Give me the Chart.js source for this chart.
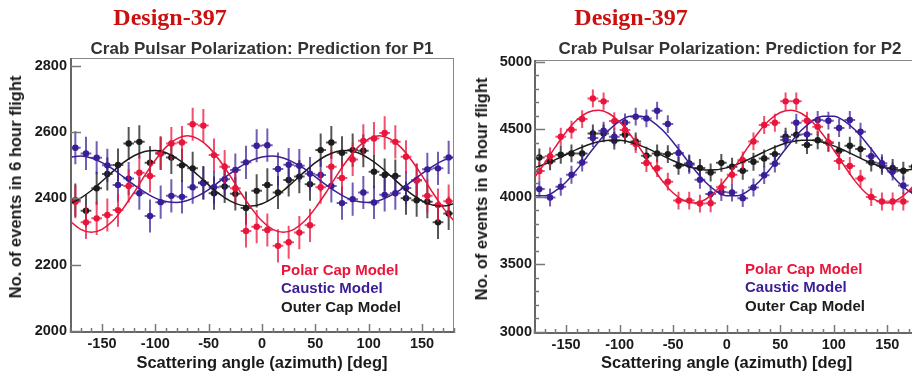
<!DOCTYPE html>
<html>
<head>
<meta charset="utf-8">
<script src="https://cdn.jsdelivr.net/npm/chart.js@4.4.1/dist/chart.umd.min.js"></script>
<style>
  html, body { margin: 0; padding: 0; background: #fff; }
  body { width: 912px; height: 375px; position: relative; overflow: hidden; font-family: "Liberation Sans", Arial, sans-serif; }
  canvas { position: absolute; top: 0; }
  #c1 { left: 0; }
  #c2 { left: 462px; }
  .design { position: absolute; top: 4px; line-height: 28px; font: bold 24px "Liberation Serif", "Times New Roman", serif; color: #cc1010; transform: translateX(-50%); white-space: nowrap; }
  .title { position: absolute; top: 39px; line-height: 20px; font-weight: bold; font-size: 17px; color: #333; transform: translateX(-50%); white-space: nowrap; }
  .ytitle { position: absolute; line-height: 20px; font-weight: bold; font-size: 16.5px; color: #1a1a1a; white-space: nowrap; transform: translate(-50%, -50%) rotate(-90deg); }
  .legend { position: absolute; font-weight: bold; font-size: 15px; line-height: 18.3px; white-space: nowrap; }
</style>
</head>
<body>
<canvas id="c1" width="462" height="375"></canvas>
<canvas id="c2" width="470" height="375"></canvas>

<div class="design" style="left:170px">Design-397</div>
<div class="design" style="left:631px">Design-397</div>
<div class="title" style="left:262px">Crab Pulsar Polarization: Prediction for P1</div>
<div class="title" style="left:730px">Crab Pulsar Polarization: Prediction for P2</div>
<div class="ytitle" style="left:15px; top:187px">No. of events in 6 hour flight</div>
<div class="ytitle" style="left:481px; top:189px">No. of events in 6 hour flight</div>

<div class="legend" style="left:281px; top:261px">
  <div style="color:rgb(232,22,60)">Polar Cap Model</div>
  <div style="color:rgb(58,30,150)">Caustic Model</div>
  <div style="color:rgb(28,28,28)">Outer Cap Model</div>
</div>
<div class="legend" style="left:745px; top:260px">
  <div style="color:rgb(232,22,60)">Polar Cap Model</div>
  <div style="color:rgb(58,30,150)">Caustic Model</div>
  <div style="color:rgb(28,28,28)">Outer Cap Model</div>
</div>

<script>
// bin centres of the azimuth histograms (10 deg bins)
const binAngles = [-175, -165, -155, -145, -135, -125, -115, -105, -95, -85, -75, -65, -55, -45, -35, -25, -15, -5,
  5, 15, 25, 35, 45, 55, 65, 75, 85, 95, 105, 115, 125, 135, 145, 155, 165, 175];
// sample angles for the fitted curves
const curveAngles = [-180, -170, -160, -150, -140, -130, -120, -110, -100, -90, -80, -70, -60, -50, -40, -30, -20, -10,
  0, 10, 20, 30, 40, 50, 60, 70, 80, 90, 100, 110, 120, 130, 140, 150, 160, 170, 180];
const xTicks = [-150, -100, -50, 0, 50, 100, 150];

// P1 panel
const p1Polar = [2390, 2328, 2340, 2350, 2365, 2438, 2478, 2468, 2538, 2566, 2569, 2624, 2620, 2531, 2496, 2431, 2302, 2315,
  2305, 2257, 2268, 2297, 2319, 2434, 2496, 2462, 2518, 2574, 2581, 2598, 2571, 2526, 2456, 2408, 2380, 2392];
const p1Caustic = [2553, 2536, 2523, 2500, 2441, 2460, 2416, 2347, 2389, 2408, 2405, 2434, 2446, 2434, 2458, 2486, 2509, 2559,
  2561, 2489, 2502, 2499, 2475, 2471, 2438, 2386, 2398, 2418, 2388, 2411, 2416, 2432, 2454, 2488, 2491, 2524];
const p1Outer = [2395, 2363, 2431, 2474, 2501, 2566, 2571, 2508, 2536, 2524, 2500, 2491, 2448, 2416, 2436, 2414, 2371, 2423,
  2441, 2418, 2456, 2466, 2443, 2546, 2569, 2538, 2546, 2544, 2481, 2471, 2468, 2401, 2395, 2390, 2328, 2355];
const p1PolarFit = [2332, 2307, 2298, 2307, 2332, 2371, 2418, 2469, 2516, 2555, 2580, 2589, 2580, 2555, 2516, 2469, 2418, 2371,
  2332, 2307, 2298, 2307, 2332, 2371, 2418, 2469, 2516, 2555, 2580, 2589, 2580, 2555, 2516, 2469, 2418, 2371, 2332];
const p1CausticFit = [2525, 2528, 2522, 2508, 2489, 2465, 2441, 2419, 2401, 2391, 2388, 2394, 2408, 2427, 2451, 2475, 2497, 2515,
  2525, 2528, 2522, 2508, 2489, 2465, 2441, 2419, 2401, 2391, 2388, 2394, 2408, 2427, 2451, 2475, 2497, 2515, 2525];
const p1OuterFit = [2384, 2401, 2424, 2452, 2481, 2508, 2529, 2542, 2545, 2538, 2521, 2498, 2470, 2441, 2414, 2393, 2380, 2377,
  2384, 2401, 2424, 2452, 2481, 2508, 2529, 2542, 2545, 2538, 2521, 2498, 2470, 2441, 2414, 2393, 2380, 2377, 2384];
const p1Err = 50;
const p1YTicks = [2000, 2200, 2400, 2600, 2800];

// P2 panel
const p2Polar = [4190, 4300, 4444, 4496, 4575, 4728, 4706, 4560, 4494, 4390, 4250, 4212, 4112, 3972, 3972, 3950, 3952, 4070,
  4163, 4270, 4410, 4531, 4548, 4706, 4706, 4563, 4519, 4402, 4265, 4228, 4135, 3998, 3965, 3965, 3965, 4044];
const p2Caustic = [4057, 3995, 4074, 4163, 4254, 4435, 4489, 4444, 4550, 4593, 4580, 4637, 4538, 4324, 4237, 4126, 4020, 4035,
  4032, 3990, 4069, 4160, 4245, 4420, 4548, 4462, 4568, 4563, 4509, 4568, 4481, 4300, 4248, 4187, 4084, 4040];
const p2Outer = [4291, 4262, 4311, 4321, 4321, 4469, 4469, 4415, 4459, 4410, 4304, 4321, 4316, 4230, 4247, 4213, 4180, 4251,
  4222, 4193, 4259, 4284, 4316, 4444, 4459, 4383, 4418, 4400, 4341, 4378, 4353, 4254, 4230, 4213, 4193, 4225];
const p2PolarFit = [4137, 4250, 4369, 4480, 4568, 4624, 4641, 4616, 4553, 4459, 4346, 4227, 4116, 4028, 3972, 3955, 3980, 4043,
  4137, 4250, 4369, 4480, 4568, 4624, 4641, 4616, 4553, 4459, 4346, 4227, 4116, 4028, 3972, 3955, 3980, 4043, 4137];
const p2CausticFit = [4008, 4008, 4044, 4110, 4200, 4302, 4404, 4494, 4560, 4596, 4596, 4560, 4494, 4404, 4302, 4200, 4110, 4044,
  4008, 4008, 4044, 4110, 4200, 4302, 4404, 4494, 4560, 4596, 4596, 4560, 4494, 4404, 4302, 4200, 4110, 4044, 4008];
const p2OuterFit = [4215, 4241, 4275, 4313, 4351, 4383, 4407, 4419, 4418, 4403, 4377, 4343, 4305, 4267, 4235, 4211, 4199, 4200,
  4215, 4241, 4275, 4313, 4351, 4383, 4407, 4419, 4418, 4403, 4377, 4343, 4305, 4267, 4235, 4211, 4199, 4200, 4215];
const p2Err = 66;
const p2YTicks = [3000, 3500, 4000, 4500, 5000];

const RED = 'rgb(232,22,60)';
const BLUE = 'rgb(58,30,150)';
const BLACK = 'rgb(28,28,28)';
const RED_BAR = 'rgba(232,22,60,0.75)';
const BLUE_BAR = 'rgba(58,30,150,0.72)';
const BLACK_BAR = 'rgba(28,28,28,0.75)';

// vertical (count) and horizontal (bin width) error bars, drawn just before the markers
const errorBars = {
  id: 'errorBars',
  beforeDatasetDraw(chart, args) {
    const ds = chart.data.datasets[args.index];
    if (!ds.yErr) return;
    const ctx = chart.ctx;
    const x = chart.scales.x, y = chart.scales.y;
    ctx.save();
    ctx.strokeStyle = ds.barColor;
    ctx.lineWidth = 2;
    ds.data.forEach(p => {
      const px = x.getPixelForValue(p.x);
      const py = y.getPixelForValue(p.y);
      ctx.beginPath();
      ctx.moveTo(px, y.getPixelForValue(p.y + ds.yErr));
      ctx.lineTo(px, y.getPixelForValue(p.y - ds.yErr));
      ctx.moveTo(x.getPixelForValue(p.x - ds.xErr), py);
      ctx.lineTo(x.getPixelForValue(p.x + ds.xErr), py);
      ctx.stroke();
    });
    ctx.restore();
  }
};

// ROOT-like frame with tick marks pointing inwards
const frameTicks = {
  id: 'frameTicks',
  afterDraw(chart, args, opts) {
    const ctx = chart.ctx;
    const a = chart.chartArea;
    const x = chart.scales.x, y = chart.scales.y;
    ctx.save();
    ctx.strokeStyle = '#888';
    ctx.lineWidth = 1;
    ctx.strokeRect(a.left + 0.5, a.top + 0.5, a.right - a.left - 1, a.bottom - a.top - 1);
    ctx.strokeStyle = '#666';
    ctx.lineWidth = 2;
    ctx.beginPath();
    ctx.moveTo(a.left + 1, a.top);
    ctx.lineTo(a.left + 1, a.bottom - 1);
    ctx.lineTo(a.right, a.bottom - 1);
    ctx.stroke();

    ctx.strokeStyle = '#777';
    ctx.lineWidth = 1.5;
    ctx.beginPath();
    for (let v = x.min; v <= x.max; v += opts.xMinor) {
      const px = Math.round(x.getPixelForValue(v)) + 0.5;
      const len = v % opts.xMajor === 0 ? 9 : 5;
      ctx.moveTo(px, a.bottom);
      ctx.lineTo(px, a.bottom - len);
    }
    const yStart = Math.ceil(y.min / opts.yMinor) * opts.yMinor;
    for (let v = yStart; v <= y.max; v += opts.yMinor) {
      const py = Math.round(y.getPixelForValue(v)) + 0.5;
      const len = v % opts.yMajor === 0 ? 11 : 5;
      ctx.moveTo(a.left, py);
      ctx.lineTo(a.left + len, py);
    }
    ctx.stroke();
    ctx.restore();
  }
};

function points(values) {
  return binAngles.map((a, i) => ({ x: a, y: values[i] }));
}
function curve(values) {
  return curveAngles.map((a, i) => ({ x: a, y: values[i] }));
}

const tickFont = { family: '"Liberation Sans", Arial, sans-serif', size: 14.5, weight: 'bold' };
const titleFont = { family: '"Liberation Sans", Arial, sans-serif', size: 16.5, weight: 'bold' };

function makePanel(canvasId, cfg) {
  const series = [
    { vals: cfg.polar, fit: cfg.polarFit, color: RED, bar: RED_BAR },
    { vals: cfg.caustic, fit: cfg.causticFit, color: BLUE, bar: BLUE_BAR },
    { vals: cfg.outer, fit: cfg.outerFit, color: BLACK, bar: BLACK_BAR }
  ];
  const datasets = [];
  series.forEach(s => {
    datasets.push({
      type: 'line', data: curve(s.fit), borderColor: s.color, borderWidth: 1.5,
      pointRadius: 0, fill: false, cubicInterpolationMode: 'monotone', order: 0
    });
  });
  series.forEach(s => {
    datasets.push({
      type: 'scatter', data: points(s.vals), backgroundColor: s.color, borderColor: s.color,
      borderWidth: 0, pointRadius: 3.2, yErr: cfg.err, xErr: 5, barColor: s.bar, order: 1
    });
  });

  return new Chart(document.getElementById(canvasId), {
    type: 'scatter',
    data: { datasets: datasets },
    options: {
      responsive: false,
      animation: false,
      events: [],
      layout: { padding: cfg.padding },
      plugins: {
        legend: { display: false },
        tooltip: { enabled: false },
        frameTicks: { xMinor: 10, xMajor: 50, yMinor: cfg.yMinor, yMajor: cfg.yMajor }
      },
      scales: {
        x: {
          type: 'linear', min: -180, max: 180,
          afterBuildTicks: s => { s.ticks = xTicks.map(v => ({ value: v })); },
          afterFit: s => { s.height = cfg.xAxisHeight; },
          grid: { display: false, drawTicks: false },
          border: { display: false },
          ticks: { font: tickFont, color: '#1a1a1a', padding: 2, autoSkip: false, maxRotation: 0, callback: v => String(v) },
          title: { display: true, text: 'Scattering angle (azimuth) [deg]', font: titleFont, color: '#1a1a1a', padding: { top: 0, bottom: 2 } }
        },
        y: {
          type: 'linear', min: cfg.yMin, max: cfg.yMax,
          afterBuildTicks: s => { s.ticks = cfg.yTicks.map(v => ({ value: v })); },
          afterFit: s => { s.width = cfg.yAxisWidth; },
          grid: { display: false, drawTicks: false },
          border: { display: false },
          ticks: { font: tickFont, color: '#1a1a1a', padding: cfg.yTickPad, autoSkip: false, callback: v => String(v) }
        }
      }
    },
    plugins: [errorBars, frameTicks]
  });
}

makePanel('c1', {
  polar: p1Polar, caustic: p1Caustic, outer: p1Outer,
  polarFit: p1PolarFit, causticFit: p1CausticFit, outerFit: p1OuterFit,
  err: p1Err, yMin: 1994, yMax: 2824, yTicks: p1YTicks, yMinor: 200, yMajor: 200,
  padding: { left: 0, top: 58, right: 8, bottom: 0 },
  yAxisWidth: 70, xAxisHeight: 42, yTickPad: 3
});

makePanel('c2', {
  polar: p2Polar, caustic: p2Caustic, outer: p2Outer,
  polarFit: p2PolarFit, causticFit: p2CausticFit, outerFit: p2OuterFit,
  err: p2Err, yMin: 2985, yMax: 5012, yTicks: p2YTicks, yMinor: 100, yMajor: 500,
  padding: { left: 0, top: 60, right: 12.6, bottom: 0 },
  yAxisWidth: 72, xAxisHeight: 41, yTickPad: 2
});
</script>
</body>
</html>
